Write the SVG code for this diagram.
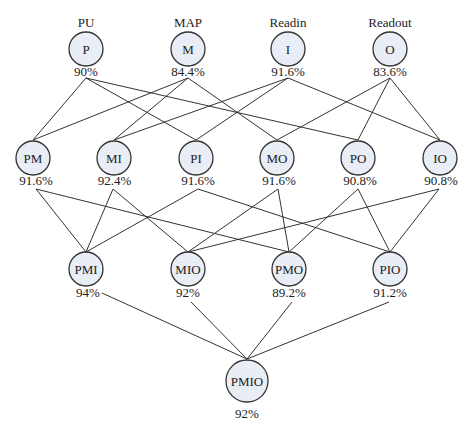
<svg xmlns="http://www.w3.org/2000/svg" width="474" height="435" viewBox="0 0 474 435">
<style>
text{font-family:"Liberation Serif","Times New Roman",serif;font-size:13px;fill:#222;text-anchor:middle}
circle{fill:#e8edf6;stroke:#333;stroke-width:1.3}
#edges line{stroke:#333;stroke-width:1}
</style>
<rect width="474" height="435" fill="#fff"/>
<g id="edges">
<line x1="86" y1="78" x2="33" y2="140"/>
<line x1="86" y1="78" x2="196" y2="140"/>
<line x1="86" y1="78" x2="358" y2="140"/>
<line x1="188" y1="78" x2="33" y2="140"/>
<line x1="188" y1="78" x2="114" y2="140"/>
<line x1="188" y1="78" x2="277" y2="140"/>
<line x1="288" y1="78" x2="114" y2="140"/>
<line x1="288" y1="78" x2="196" y2="140"/>
<line x1="288" y1="78" x2="440" y2="140"/>
<line x1="390" y1="78" x2="277" y2="140"/>
<line x1="390" y1="78" x2="358" y2="140"/>
<line x1="390" y1="78" x2="440" y2="140"/>
<line x1="36" y1="189" x2="86" y2="252"/>
<line x1="113" y1="189" x2="86" y2="252"/>
<line x1="198" y1="189" x2="86" y2="252"/>
<line x1="113" y1="189" x2="188" y2="252"/>
<line x1="278" y1="189" x2="188" y2="252"/>
<line x1="439" y1="189" x2="188" y2="252"/>
<line x1="36" y1="189" x2="289" y2="252"/>
<line x1="278" y1="189" x2="289" y2="252"/>
<line x1="358" y1="189" x2="289" y2="252"/>
<line x1="198" y1="189" x2="390" y2="252"/>
<line x1="358" y1="189" x2="390" y2="252"/>
<line x1="439" y1="189" x2="390" y2="252"/>
<line x1="102" y1="293" x2="247" y2="359"/>
<line x1="191" y1="302" x2="247" y2="359"/>
<line x1="292" y1="302" x2="247" y2="359"/>
<line x1="389" y1="302" x2="247" y2="359"/>
</g>
<g id="node-P"><text x="86" y="27">PU</text><circle cx="86" cy="49" r="17"/><text x="86" y="53.5">P</text><text x="86" y="76">90%</text></g>
<g id="node-M"><text x="188" y="27">MAP</text><circle cx="188" cy="49" r="17"/><text x="188" y="53.5">M</text><text x="188" y="76">84.4%</text></g>
<g id="node-I"><text x="288" y="27">Readin</text><circle cx="288" cy="49" r="17"/><text x="288" y="53.5">I</text><text x="288" y="76">91.6%</text></g>
<g id="node-O"><text x="390" y="27">Readout</text><circle cx="390" cy="49" r="17"/><text x="390" y="53.5">O</text><text x="390" y="76">83.6%</text></g>
<g id="node-PM"><circle cx="33" cy="158" r="17"/><text x="33" y="162.5">PM</text><text x="36" y="185">91.6%</text></g>
<g id="node-MI"><circle cx="114" cy="158" r="17"/><text x="114" y="162.5">MI</text><text x="114.5" y="185">92.4%</text></g>
<g id="node-PI"><circle cx="196" cy="158" r="17"/><text x="196" y="162.5">PI</text><text x="198" y="185">91.6%</text></g>
<g id="node-MO"><circle cx="277" cy="158" r="17"/><text x="277" y="162.5">MO</text><text x="279" y="185">91.6%</text></g>
<g id="node-PO"><circle cx="358" cy="158" r="17"/><text x="358" y="162.5">PO</text><text x="360" y="185">90.8%</text></g>
<g id="node-IO"><circle cx="440" cy="158" r="17"/><text x="440" y="162.5">IO</text><text x="441" y="185">90.8%</text></g>
<g id="node-PMI"><circle cx="86" cy="269" r="17"/><text x="86" y="273.5">PMI</text><text x="88" y="297">94%</text></g>
<g id="node-MIO"><circle cx="188" cy="269" r="17"/><text x="188" y="273.5">MIO</text><text x="188" y="297">92%</text></g>
<g id="node-PMO"><circle cx="289" cy="269" r="17"/><text x="289" y="273.5">PMO</text><text x="289" y="297">89.2%</text></g>
<g id="node-PIO"><circle cx="390" cy="269" r="17"/><text x="390" y="273.5">PIO</text><text x="390" y="297">91.2%</text></g>
<g id="node-PMIO"><circle cx="247" cy="381" r="21"/><text x="247" y="385.5">PMIO</text><text x="247" y="418">92%</text></g>
</svg>
